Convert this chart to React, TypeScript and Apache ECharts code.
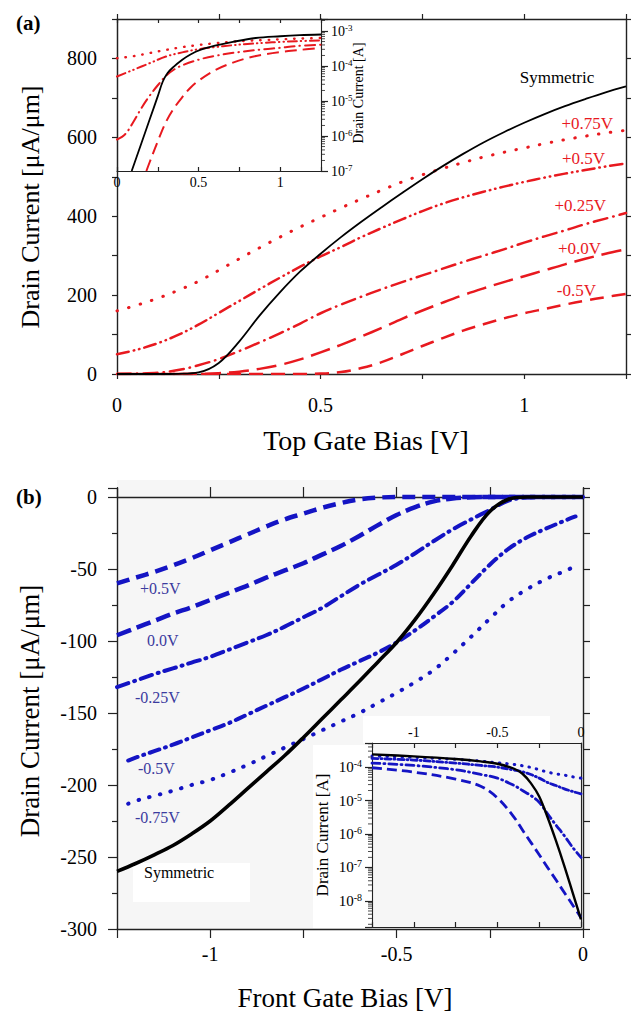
import React, { useEffect, useRef } from "react";
import * as echarts from "echarts";

const FONT = "'Liberation Serif', 'Times New Roman', Times, serif";
const RED = "#e8191f";
const BLUE = "#1414c4";
const BLUE_TEXT = "#3b3b9e";
const AXIS = "#222";

// ---------- Panel (a): drain current [uA/um] vs top gate bias [V]
const topGateBias = [0, 0.05, 0.1, 0.15, 0.2, 0.25, 0.3, 0.35, 0.4, 0.45, 0.5, 0.55, 0.6, 0.65, 0.7, 0.75, 0.8, 0.85, 0.9, 0.95, 1, 1.05, 1.1, 1.15, 1.2, 1.25];
const aSymmetric = [0, 0, 0, 0.5, 4, 28, 82, 148, 207, 260, 305, 347, 386, 423, 459, 494, 527, 558, 587, 613, 637, 659, 679, 697, 714, 729];
const aBackP075 = [160, 175, 192, 212, 235, 263, 292, 320, 347, 373, 397, 421, 444, 466, 487, 505, 521, 536, 550, 562, 573, 584, 594, 603, 611, 618];
const aBackP050 = [50, 62, 78, 99, 125, 155, 185, 215, 244, 272, 298, 322, 347, 370, 392, 413, 432, 448, 462, 475, 487, 498, 508, 517, 526, 534];
const aBackP025 = [0, 1, 3, 10, 22, 38, 58, 80, 103, 128, 154, 176, 196, 215, 233, 250, 267, 284, 300, 316, 333, 349, 364, 380, 394, 408];
const aBack000 = [0, 0, 0, 0, 0, 2, 6, 13, 23, 37, 55, 74, 95, 117, 140, 161, 181, 200, 217, 233, 248, 263, 278, 292, 305, 316];
const aBackM050 = [0, 0, 0, 0, 0, 0, 0, 0, 0, 0, 1, 5, 15, 30, 50, 71, 91, 110, 126, 141, 154, 165, 176, 186, 195, 203];

// inset (a): log10 of drain current [A]
const aiSymBias = [0.09, 0.12, 0.15, 0.2, 0.25, 0.28, 0.31, 0.345, 0.4, 0.45, 0.51, 0.6, 0.71, 0.85, 1.0, 1.12, 1.25];
const aiSymmetric = [-7, -6.6, -6.2, -5.53, -4.86, -4.45, -4.2, -4.03, -3.82, -3.67, -3.54, -3.42, -3.31, -3.2, -3.15, -3.12, -3.1];
const aiBias = [0, 0.1, 0.2, 0.3, 0.4, 0.5, 0.6, 0.7, 0.8, 0.9, 1.0, 1.1, 1.25];
const aiBackP075 = [-3.78, -3.72, -3.63, -3.54, -3.46, -3.4, -3.35, -3.31, -3.28, -3.26, -3.24, -3.22, -3.2];
const aiBackP050 = [-4.3, -4.11, -3.92, -3.73, -3.61, -3.52, -3.46, -3.41, -3.37, -3.34, -3.31, -3.29, -3.27];
const aiP025Bias = [0, 0.05, 0.1, 0.15, 0.2, 0.25, 0.3, 0.35, 0.4, 0.5, 0.6, 0.75, 0.9, 1.0, 1.1, 1.25];
const aiBackP025 = [-6.1, -5.95, -5.6, -5.2, -4.85, -4.55, -4.28, -4.1, -3.98, -3.82, -3.71, -3.6, -3.52, -3.48, -3.43, -3.39];
const ai000Bias = [0.18, 0.2, 0.25, 0.3, 0.35, 0.4, 0.45, 0.5, 0.6, 0.7, 0.8, 0.9, 1.0, 1.1, 1.25];
const aiBack000 = [-7, -6.75, -6.15, -5.6, -5.2, -4.89, -4.62, -4.42, -4.12, -3.92, -3.77, -3.67, -3.6, -3.55, -3.48];

// ---------- Panel (b): drain current [uA/um] vs front gate bias [V]
const frontGateBias = [-1.25, -1.2, -1.15, -1.1, -1.05, -1, -0.95, -0.9, -0.85, -0.8, -0.75, -0.7, -0.65, -0.6, -0.55, -0.5, -0.45, -0.4, -0.35, -0.3, -0.25, -0.2, -0.15, -0.1, -0.05, 0];
const bSymmetric = [-260, -254.5, -248.5, -242, -234, -225, -214, -202.5, -191, -179.5, -167, -154, -141, -128, -114.5, -101, -85, -67, -47.5, -27, -10, -1.5, 0, 0, 0, 0];
const bBackP050 = [-60, -56, -52, -47.5, -42.5, -37, -31.5, -26, -20.5, -15.5, -11.5, -7.5, -4.2, -1.6, -0.4, 0, 0, 0, 0, 0, 0, 0, 0, 0, 0, 0];
const bBack000 = [-96, -91, -86, -81, -76.5, -71.5, -66.5, -61.5, -56, -51, -46, -40, -34, -27, -19.5, -12.5, -7, -3, -1, -0.2, 0, 0, 0, 0, 0, 0];
const bBackM025 = [-132, -127.5, -123, -119, -115, -111, -106, -101, -96, -90, -83.5, -77, -69, -61, -54, -47, -39, -30.5, -22.5, -15.5, -9, -2.5, -0.3, 0, 0, 0];
const frontGateBiasShort = [-1.22, -1.2, -1.15, -1.1, -1.05, -1, -0.95, -0.9, -0.85, -0.8, -0.75, -0.7, -0.65, -0.6, -0.55, -0.5, -0.45, -0.4, -0.35, -0.3, -0.25, -0.2, -0.15, -0.1, -0.05, -0.02];
const bBackM050 = [-183, -181, -176.5, -172, -167, -162, -157, -151, -145, -139, -133, -126.5, -120, -114, -108, -101, -92.5, -83, -73, -60, -47, -36, -28, -22, -16.5, -13.5];
const bBackM075 = [-213, -211, -207.5, -204, -200, -196.5, -191.5, -186, -180, -174, -168, -162, -156, -150, -143, -136, -128.5, -120, -109, -97, -84.5, -72.5, -64, -57, -51.5, -48];

// inset (b): log10 of |drain current| [A]
const biBias = [-1.25, -1, -0.75, -0.6, -0.5, -0.4, -0.35, -0.3, -0.25, -0.2, -0.15, -0.1, -0.05, 0];
const biSymmetric = [-3.62, -3.68, -3.76, -3.83, -3.9, -4.05, -4.2, -4.48, -4.88, -5.5, -6.2, -6.95, -7.75, -8.55];
const biBackM075 = [-3.67, -3.71, -3.77, -3.82, -3.87, -3.92, -3.96, -4.01, -4.08, -4.15, -4.2, -4.24, -4.29, -4.33];
const biBackM050 = [-3.74, -3.79, -3.88, -3.95, -4.0, -4.09, -4.14, -4.22, -4.33, -4.46, -4.55, -4.65, -4.73, -4.8];
const biBackM025 = [-3.88, -3.95, -4.08, -4.22, -4.33, -4.55, -4.7, -4.85, -5.05, -5.4, -5.73, -6.05, -6.4, -6.7];
const biBack000 = [-4.02, -4.15, -4.36, -4.57, -4.92, -5.5, -5.88, -6.25, -6.62, -7.0, -7.37, -7.75, -8.12, -8.5];

// log-axis minor tick multipliers and decades
const logMinorSteps = [2, 3, 4, 5, 6, 7, 8, 9];
const insetADecades = [-7, -6, -5, -4, -3];
const insetBDecades = [-9, -8, -7, -6, -5, -4];

const fmtStep = (step: number) => (v: number) => {
  const r = v / step;
  if (Math.abs(r - Math.round(r)) > 1e-6) return "";
  const s = String(Math.round(v * 1000) / 1000);
  return s === "-0" ? "0" : s;
};
const fmtPow = (v: number) => {
  if (Math.abs(v - Math.round(v)) > 1e-6) return "";
  return `{b|10}{s|${Math.round(v)}}`;
};
const powRich = (base: number, sup: number) => ({
  b: { fontSize: base, fontFamily: FONT, color: "#000", lineHeight: base + 2 },
  s: { fontSize: sup, fontFamily: FONT, color: "#000", verticalAlign: "top", lineHeight: sup + 1 },
});

const pairs = (xs: number[], ys: number[]) => xs.map((x, i) => [x, ys[i]]);

const mkLine = (xs: number[], ys: number[], xi: number, yi: number, color: string, width: number, type: any, cap = "butt") => ({
  type: "line",
  xAxisIndex: xi,
  yAxisIndex: yi,
  data: pairs(xs, ys),
  showSymbol: false,
  symbol: "none",
  smooth: 0.35,
  silent: true,
  clip: true,
  z: 3,
  lineStyle: { color, width, type, cap, join: "round" },
});

const minorTickValues = (decs: number[], lo: number, hi: number) =>
  decs.flatMap((d) => logMinorSteps.map((k) => d + Math.log10(k))).filter((v) => v > lo && v < hi);

const txt = (text: string, x: number, y: number, o: any = {}) => ({
  type: "text",
  x,
  y,
  rotation: o.rotation || 0,
  z: 30,
  silent: true,
  style: {
    text,
    fill: o.color || "#000",
    fontSize: o.size || 17,
    fontFamily: FONT,
    fontWeight: o.weight || "normal",
    align: o.align || "left",
    textAlign: o.align || "left",
    verticalAlign: "middle",
    textVerticalAlign: "middle",
  },
});
const rect = (x: number, y: number, w: number, h: number, fill: string, z: number) => ({
  type: "rect",
  shape: { x, y, width: w, height: h },
  style: { fill },
  z,
  silent: true,
});

const axisLine = (w = 1.4, onZero = false) => ({ show: true, onZero, lineStyle: { color: AXIS, width: w } });
const tick = (length: number, inside = false, show = true) => ({ show, length, inside, lineStyle: { color: AXIS, width: 1.2 } });
const noLabel = { show: false };
const noSplit = { show: false };
const label = (size: number, margin: number, formatter: any, rich?: any) => ({
  show: true,
  fontSize: size,
  fontFamily: FONT,
  color: "#000",
  margin,
  formatter,
  rich,
  showMinLabel: true,
  showMaxLabel: true,
});

const A_YMAX_LOG = -2.657;
const B_YMIN_LOG = -8.78;
const B_YMAX_LOG = -3.28;

export default function App() {
  const ref = useRef<HTMLDivElement>(null);
  useEffect(() => {
    if (!ref.current) return;
    const chart = echarts.init(ref.current, undefined, { renderer: "svg" });
    const grids = [
      { left: 117, top: 19, width: 509, height: 355 },
      { left: 117, top: 19, width: 204, height: 152 },
      { left: 117, top: 488.4, width: 466, height: 440.6 },
      { left: 372, top: 743, width: 209, height: 184 },
    ].map((g) => ({ ...g, containLabel: false, outerBoundsMode: "none", show: false }));

    const xAxis = [
      { gridIndex: 0, type: "value", position: "bottom", min: 0, max: 1.25, interval: 0.25, axisLine: axisLine(), axisTick: tick(5), axisLabel: label(20, 21, fmtStep(0.5)), splitLine: noSplit },
      { gridIndex: 0, type: "value", position: "top", min: 0, max: 1.25, interval: 0.25, axisLine: axisLine(), axisTick: tick(5), axisLabel: noLabel, splitLine: noSplit },
      { gridIndex: 1, type: "value", position: "bottom", min: 0, max: 1.25, interval: 0.25, axisLine: axisLine(1.1), axisTick: tick(4, true), axisLabel: label(14, 4, fmtStep(0.5)), splitLine: noSplit },
      { gridIndex: 1, type: "value", position: "top", min: 0, max: 1.25, interval: 0.25, axisLine: axisLine(1.1), axisTick: tick(4, true), axisLabel: noLabel, splitLine: noSplit },
      { gridIndex: 2, type: "value", position: "bottom", min: -1.25, max: 0, interval: 0.25, axisLine: axisLine(), axisTick: tick(9), axisLabel: label(20, 15, fmtStep(0.5)), splitLine: noSplit },
      { gridIndex: 2, type: "value", position: "top", min: -1.25, max: 0, interval: 0.25, axisLine: axisLine(1.4, true), axisTick: tick(10), axisLabel: noLabel, splitLine: noSplit },
      { gridIndex: 3, type: "value", position: "top", min: -1.25, max: 0, interval: 0.25, axisLine: axisLine(1.1), axisTick: tick(5, true), axisLabel: label(14, 4, fmtStep(0.5)), splitLine: noSplit },
      { gridIndex: 3, type: "value", position: "bottom", min: -1.25, max: 0, interval: 0.25, axisLine: axisLine(1.1), axisTick: tick(5, true), axisLabel: noLabel, splitLine: noSplit },
    ];
    const yAxis = [
      { gridIndex: 0, type: "value", position: "left", min: 0, max: 900, interval: 100, axisLine: axisLine(), axisTick: tick(5), axisLabel: label(20, 20, fmtStep(200)), splitLine: noSplit },
      { gridIndex: 0, type: "value", position: "right", min: 0, max: 900, interval: 100, axisLine: axisLine(), axisTick: tick(5), axisLabel: noLabel, splitLine: noSplit },
      { gridIndex: 1, type: "value", position: "left", min: -7, max: A_YMAX_LOG, interval: 1, axisLine: axisLine(1.1), axisTick: tick(0, false, false), axisLabel: noLabel, splitLine: noSplit },
      { gridIndex: 1, type: "value", position: "right", min: -7, max: A_YMAX_LOG, interval: 1, axisLine: axisLine(1.1), axisTick: tick(7), axisLabel: label(14, 10, fmtPow, powRich(14, 9)), splitLine: noSplit },
      { gridIndex: 2, type: "value", position: "left", min: -300, max: 6, interval: 50, axisLine: axisLine(), axisTick: tick(9), minorTick: { show: true, splitNumber: 2, length: 5, lineStyle: { color: AXIS, width: 1.2 } }, axisLabel: label(20, 20, fmtStep(50)), splitLine: noSplit, minorSplitLine: noSplit },
      { gridIndex: 2, type: "value", position: "right", min: -300, max: 6, interval: 25, axisLine: axisLine(), axisTick: tick(7), axisLabel: noLabel, splitLine: noSplit },
      { gridIndex: 3, type: "value", position: "left", min: B_YMIN_LOG, max: B_YMAX_LOG, splitNumber: 5, axisLine: axisLine(1.1), axisTick: tick(7), axisLabel: label(15, 10, fmtPow, powRich(15, 10)), splitLine: noSplit },
      { gridIndex: 3, type: "value", position: "right", min: B_YMIN_LOG, max: B_YMAX_LOG, splitNumber: 5, axisLine: axisLine(1.1), axisTick: tick(0, false, false), axisLabel: noLabel, splitLine: noSplit },
    ];

    const series: any[] = [
      // panel (a)
      mkLine(topGateBias, aBackM050, 0, 0, RED, 2.5, [14, 8]),
      mkLine(topGateBias, aBack000, 0, 0, RED, 2.5, [20, 8]),
      mkLine(topGateBias, aBackP025, 0, 0, RED, 2.5, [14, 6, 0.5, 6], "round"),
      mkLine(topGateBias, aBackP050, 0, 0, RED, 2.5, [12, 5, 0.5, 5, 0.5, 5], "round"),
      mkLine(topGateBias, aBackP075, 0, 0, RED, 3, [0.5, 11.5], "round"),
      mkLine(topGateBias, aSymmetric, 0, 0, "#000", 1.8, "solid"),
      // inset (a)
      mkLine(ai000Bias, aiBack000, 2, 3, RED, 2, [12, 6]),
      mkLine(aiP025Bias, aiBackP025, 2, 3, RED, 2, [10, 5, 0.5, 5], "round"),
      mkLine(aiBias, aiBackP050, 2, 3, RED, 2, [9, 4, 0.5, 4, 0.5, 4], "round"),
      mkLine(aiBias, aiBackP075, 2, 3, RED, 2.4, [0.5, 8], "round"),
      mkLine(aiSymBias, aiSymmetric, 2, 3, "#000", 1.8, "solid"),
      {
        type: "scatter", xAxisIndex: 2, yAxisIndex: 3, silent: true, clip: false, z: 4,
        symbol: "rect", symbolSize: [4, 1], symbolOffset: [2, 0], itemStyle: { color: AXIS },
        data: minorTickValues(insetADecades, -7, A_YMAX_LOG).map((v) => [1.25, v]),
      },
      // panel (b)
      mkLine(frontGateBiasShort, bBackM075, 4, 4, BLUE, 4, [0.5, 10.5], "round"),
      mkLine(frontGateBiasShort, bBackM050, 4, 4, BLUE, 4, [10, 6, 1, 6], "round"),
      mkLine(frontGateBias, bBackM025, 4, 4, BLUE, 4, [12, 6, 1, 6], "round"),
      mkLine(frontGateBias, bBack000, 4, 4, BLUE, 4.5, [15, 6]),
      mkLine(frontGateBias, bBackP050, 4, 4, BLUE, 4.5, [13, 7]),
      mkLine(frontGateBias, bSymmetric, 4, 4, "#000", 3.6, "solid"),
      // inset (b)
      mkLine(biBias, biBack000, 6, 6, BLUE, 2.8, [10, 5]),
      mkLine(biBias, biBackM025, 6, 6, BLUE, 2.8, [8, 4, 1, 4], "round"),
      mkLine(biBias, biBackM050, 6, 6, BLUE, 2.8, [6, 3, 1, 3], "round"),
      mkLine(biBias, biBackM075, 6, 6, BLUE, 3, [0.5, 7], "round"),
      mkLine(biBias, biSymmetric, 6, 6, "#000", 2.4, "solid"),
      {
        type: "scatter", xAxisIndex: 6, yAxisIndex: 6, silent: true, clip: false, z: 4,
        symbol: "rect", symbolSize: [4, 1], symbolOffset: [-2, 0], itemStyle: { color: AXIS },
        data: minorTickValues(insetBDecades, B_YMIN_LOG, B_YMAX_LOG).map((v) => [-1.25, v]),
      },
    ];

    const graphic = [
      rect(117, 480, 473, 450, "#f6f6f6", -20),
      rect(133, 863, 117, 39, "#ffffff", -10),
      rect(313, 745, 59, 183, "#ffffff", -10),
      rect(363, 716, 187, 27, "#ffffff", -10),
      txt("(a)", 16, 23, { size: 21, weight: "bold" }),
      txt("(b)", 16, 497, { size: 21, weight: "bold" }),
      txt("Drain Current [\u03bcA/\u03bcm]", 30, 207, { size: 26, align: "center", rotation: Math.PI / 2 }),
      txt("Drain Current [\u03bcA/\u03bcm]", 30, 711, { size: 27, align: "center", rotation: Math.PI / 2 }),
      txt("Top Gate Bias [V]", 366, 440, { size: 28, align: "center" }),
      txt("Front Gate Bias [V]", 345, 998, { size: 27, align: "center" }),
      txt("Drain Current [A]", 358, 93, { size: 14, align: "center", rotation: Math.PI / 2 }),
      txt("Drain Current [A]", 322, 835, { size: 17, align: "center", rotation: Math.PI / 2 }),
      txt("Symmetric", 557, 77, { size: 17, align: "center" }),
      txt("+0.75V", 613, 123, { size: 17, align: "right", color: RED }),
      txt("+0.5V", 605, 158, { size: 17, align: "right", color: RED }),
      txt("+0.25V", 606, 205, { size: 17, align: "right", color: RED }),
      txt("+0.0V", 601, 248, { size: 17, align: "right", color: RED }),
      txt("-0.5V", 596, 290, { size: 17, align: "right", color: RED }),
      txt("+0.5V", 140, 588, { size: 16, color: BLUE_TEXT }),
      txt("0.0V", 147, 640, { size: 16, color: BLUE_TEXT }),
      txt("-0.25V", 135, 697, { size: 16, color: BLUE_TEXT }),
      txt("-0.5V", 138, 768, { size: 16, color: BLUE_TEXT }),
      txt("-0.75V", 135, 817, { size: 16, color: BLUE_TEXT }),
      txt("Symmetric", 144, 872, { size: 16 }),
    ];

    chart.setOption({
      animation: false,
      backgroundColor: "#ffffff",
      textStyle: { fontFamily: FONT },
      grid: grids,
      xAxis,
      yAxis,
      series,
      graphic,
    });
    return () => chart.dispose();
  }, []);
  return <div ref={ref} style={{ position: "absolute", left: 0, top: 0, width: 635, height: 1016 }} />;
}
